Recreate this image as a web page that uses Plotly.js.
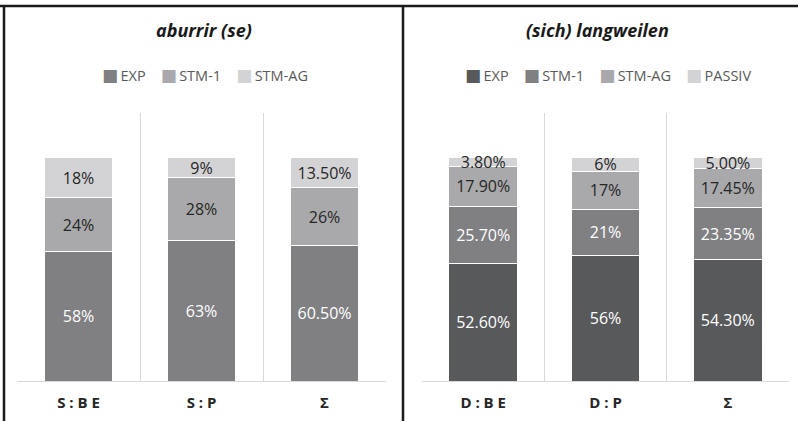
<!DOCTYPE html>
<html>
<head>
<meta charset="utf-8">
<script src="https://cdn.plot.ly/plotly-3.0.1.min.js"></script>
<style>html,body{margin:0;padding:0;background:#fff;}#chart{width:798px;height:421px;}</style>
</head>
<body>
<div id="chart"></div>
<script>
// ---- data ----
const titleLeft = "aburrir (se)";
const titleRight = "(sich) langweilen";
const catsLeft = ["S : B E", "S : P", "Σ"];
const catsRight = ["D : B E", "D : P", "Σ"];
const seriesLeft = ["EXP", "STM-1", "STM-AG"];
const seriesRight = ["EXP", "STM-1", "STM-AG", "PASSIV"];
const leftEXP = [58, 63, 60.5];
const leftSTM1 = [24, 28, 26];
const leftSTMAG = [18, 9, 13.5];
const leftEXPLabels = ["58%", "63%", "60.50%"];
const leftSTM1Labels = ["24%", "28%", "26%"];
const leftSTMAGLabels = ["18%", "9%", "13.50%"];
const rightEXP = [52.6, 56, 54.3];
const rightSTM1 = [25.7, 21, 23.35];
const rightSTMAG = [17.9, 17, 17.45];
const rightPASSIV = [3.8, 6, 5.0];
const rightEXPLabels = ["52.60%", "56%", "54.30%"];
const rightSTM1Labels = ["25.70%", "21%", "23.35%"];
const rightSTMAGLabels = ["17.90%", "17%", "17.45%"];
const rightPASSIVLabels = ["3.80%", "6%", "5.00%"];

// ---- styles ----
const FONT = "Open Sans, Noto Sans, sans-serif";
const colorsLeft = ["#808083", "#a9a9ab", "#d3d3d5"];
const textColorsLeft = ["#ffffff", "#262626", "#262626"];
const colorsRight = ["#58595b", "#808083", "#a9a9ab", "#d3d3d5"];
const textColorsRight = ["#ffffff", "#ffffff", "#262626", "#262626"];

function barTrace(cats, vals, labels, name, color, tcolor, xa, ya) {
  return {
    type: "bar", x: cats, y: vals, name: name, text: labels,
    texttemplate: "%{text}", textposition: "inside", insidetextanchor: "middle",
    textangle: 0, constraintext: "none",
    textfont: {family: FONT, size: 16, color: tcolor},
    marker: {color: color, line: {color: "#ffffff", width: 1}},
    xaxis: xa, yaxis: ya, showlegend: false, hoverinfo: "skip"
  };
}

const leftVals = [leftEXP, leftSTM1, leftSTMAG];
const leftLabs = [leftEXPLabels, leftSTM1Labels, leftSTMAGLabels];
const rightVals = [rightEXP, rightSTM1, rightSTMAG, rightPASSIV];
const rightLabs = [rightEXPLabels, rightSTM1Labels, rightSTMAGLabels, rightPASSIVLabels];

const data = [];
seriesLeft.forEach((s, i) => data.push(barTrace(catsLeft, leftVals[i], leftLabs[i], s, colorsLeft[i], textColorsLeft[i], "x", "y")));
seriesRight.forEach((s, i) => data.push(barTrace(catsRight, rightVals[i], rightLabs[i], s, colorsRight[i], textColorsRight[i], "x2", "y2")));

const W = 798, H = 421;
const yBottom = 1 - 381 / H, yTop = 1 - 113 / H;

function xax(d) {
  return {
    domain: d, type: "category", tickson: "boundaries", showgrid: true,
    gridcolor: "#d9d9d9", gridwidth: 1, showline: true, linecolor: "#d9d9d9",
    linewidth: 1, ticks: "", zeroline: false, fixedrange: true,
    ticklabelstandoff: 8,
    tickfont: {family: FONT, size: 15, color: "#262626", weight: "bold"}
  };
}
function yax(d, anchor) {
  return {domain: d, range: [0, 120], showticklabels: false, showgrid: false,
          zeroline: false, showline: false, ticks: "", fixedrange: true, anchor: anchor};
}

// legend built from series names and colours
function legendText(names, colors) {
  return names.map((n, i) =>
    '<span style="color:' + colors[i] + ';font-family:DejaVu Sans;font-size:17px">■</span>\u2009' + n
  ).join("\u00a0\u00a0\u00a0\u00a0");
}

const layout = {
  width: W, height: H, margin: {l: 0, r: 0, t: 0, b: 0},
  paper_bgcolor: "#ffffff", plot_bgcolor: "rgba(0,0,0,0)",
  barmode: "stack", bargap: 0.44,
  uniformtext: {mode: "show", minsize: 16},
  xaxis: xax([17 / W, 386 / W]),
  yaxis: yax([yBottom, yTop], "x"),
  xaxis2: xax([422 / W, 789 / W]),
  yaxis2: yax([yBottom, yTop], "x2"),
  showlegend: false,
  annotations: [
    {text: "<b><i>" + titleLeft + "</i></b>", xref: "paper", yref: "paper", x: 204 / W, y: 1 - 30 / H,
     xanchor: "center", yanchor: "middle", showarrow: false, font: {family: FONT, size: 18, color: "#1a1a1a"}},
    {text: "<b><i>" + titleRight + "</i></b>", xref: "paper", yref: "paper", x: 597 / W, y: 1 - 30 / H,
     xanchor: "center", yanchor: "middle", showarrow: false, font: {family: FONT, size: 18, color: "#1a1a1a"}},
    {text: legendText(seriesLeft, colorsLeft), xref: "paper", yref: "paper", x: 205 / W, y: 1 - 75 / H,
     xanchor: "center", yanchor: "middle", showarrow: false, font: {family: FONT, size: 14.5, color: "#595959"}},
    {text: legendText(seriesRight, colorsRight), xref: "paper", yref: "paper", x: 608 / W, y: 1 - 75 / H,
     xanchor: "center", yanchor: "middle", showarrow: false, font: {family: FONT, size: 14.5, color: "#595959"}}
  ],
  shapes: [
    {type: "line", xref: "paper", yref: "paper", x0: 0, x1: 1, y0: 1 - 6 / H, y1: 1 - 6 / H, line: {color: "#1a1a1a", width: 2.5}},
    {type: "line", xref: "paper", yref: "paper", x0: 4 / W, x1: 4 / W, y0: 0, y1: 1 - 5 / H, line: {color: "#1a1a1a", width: 2.5}},
    {type: "line", xref: "paper", yref: "paper", x0: 403 / W, x1: 403 / W, y0: 0, y1: 1 - 5 / H, line: {color: "#1a1a1a", width: 2.5}}
  ]
};

Plotly.newPlot("chart", data, layout, {displayModeBar: false, staticPlot: true});
</script>
</body>
</html>
